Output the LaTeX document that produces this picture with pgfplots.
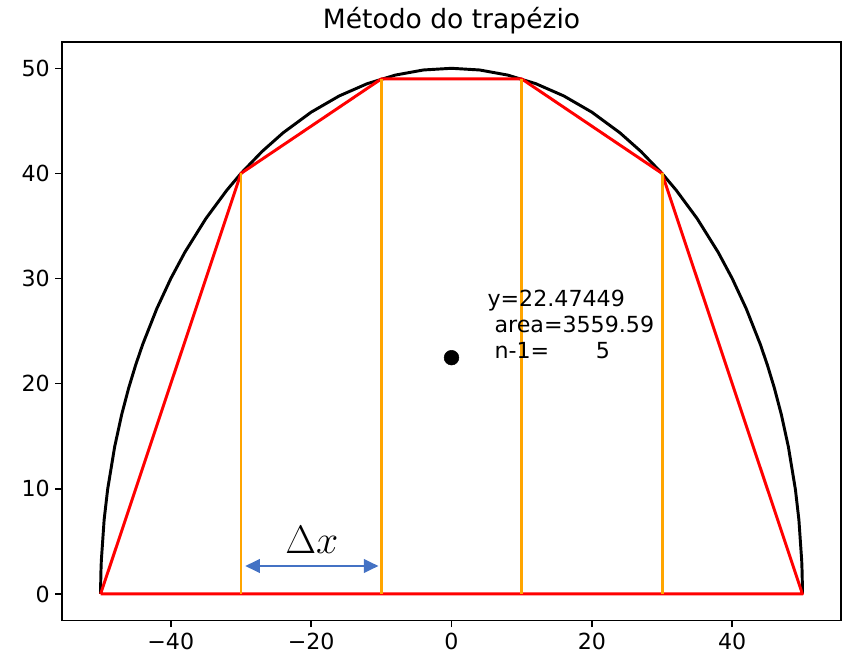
\documentclass[border=0pt]{standalone}
\usepackage{pgfplots}
\pgfplotsset{compat=1.18}
\usetikzlibrary{arrows.meta}
\usepackage{fontspec}
\setmainfont{DejaVu Sans}
\definecolor{mplorange}{HTML}{FFA500}
\definecolor{arrowblue}{HTML}{4472C4}

\begin{document}
\begin{tikzpicture}
\begin{axis}[
    scale only axis,
    width=584pt, height=433.5pt,
    xmin=-55.5, xmax=55.5,
    ymin=-2.5, ymax=52.5,
    xtick={-40,-20,0,20,40},
    xticklabels={−40,−20,0,20,40},
    ytick={0,10,20,30,40,50},
    tick align=outside,
    tick pos=left,
    major tick length=5.1pt,
    tick style={black, line width=1.1pt},
    axis line style={line width=1.1pt},
    every tick label/.append style={font=\fontsize{16.6}{19}\selectfont, inner sep=0pt},
    xticklabel shift=4pt,
    yticklabel shift=3.9pt,
    /pgf/number format/assume math mode=true,
    title={Método do trapézio},
    title style={font=\fontsize{19.9}{23}\selectfont, at={(0.5,1)}, anchor=base, yshift=3.8pt},
    clip=false,
]
% semicircle
\addplot[black, line width=2.2pt] coordinates {
(-50,0)(-49.99,1.0)(-49.95,2.236)(-49.9,3.161)(-49.5,7.053)(-49,9.950)(-48,14)
(-47,17.059)(-46,19.596)(-45,21.794)(-44,23.749)(-42,27.129)(-40,30)
(-38,32.496)(-35,35.707)(-32,38.419)(-30,40)(-27,42.083)(-24,43.863)
(-20,45.826)(-16,47.371)(-12,48.539)(-8,49.356)(-4,49.840)(0,50)
(4,49.840)(8,49.356)(12,48.539)(16,47.371)(20,45.826)(24,43.863)(27,42.083)
(30,40)(32,38.419)(35,35.707)(38,32.496)(40,30)(42,27.129)(44,23.749)
(45,21.794)(46,19.596)(47,17.059)(48,14)(49,9.950)(49.5,7.053)(49.9,3.161)
(49.95,2.236)(49.99,1.0)(50,0)
};
% trapezoids
\addplot[red, line width=2.2pt, line join=round] coordinates {
(-50,0)(-30,40)(-10,48.990)(10,48.990)(30,40)(50,0)(-50,0)
};
\addplot[mplorange, line width=2.2pt] coordinates {(-30,0)(-30,40)};
\addplot[mplorange, line width=2.2pt] coordinates {(-10,0)(-10,48.990)};
\addplot[mplorange, line width=2.2pt] coordinates {(10,0)(10,48.990)};
\addplot[mplorange, line width=2.2pt] coordinates {(30,0)(30,40)};
% center point
\addplot[only marks, mark=*, mark size=5.5pt, black] coordinates {(0,22.47449)};
% delta x arrow
\addplot[arrowblue, line width=2.2pt, {Triangle[length=11pt,width=10pt]}-{Triangle[length=11pt,width=10pt]}]
    coordinates {(-29.4,2.66)(-10.4,2.66)};
\node[font=\fontsize{24.88}{28}\selectfont, scale=1.2, inner sep=0pt] at (axis cs:-19.9,5.1) {$\Delta x$};
\node[anchor=south west, align=left, inner sep=0pt,
      font=\fontsize{16.6}{19.5}\selectfont] at (axis cs:5.1,22.3)
     {y=22.47449\\ \ area=3559.59\\ \ n-1=\hspace{2.1em}5};
\coordinate (bl) at (rel axis cs:0,0);
\coordinate (tr) at (rel axis cs:1,1);
\end{axis}
\pgfresetboundingbox
\useasboundingbox ([shift={(-46.5pt,-27pt)}]bl) rectangle ([shift={(2.25pt,31.5pt)}]tr);
\end{tikzpicture}
\end{document}
